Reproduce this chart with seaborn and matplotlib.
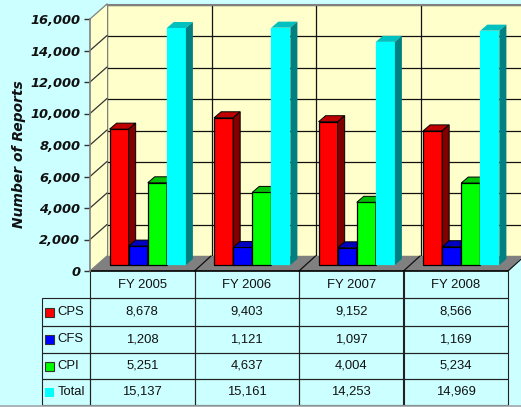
import matplotlib
matplotlib.use("Agg")
import matplotlib.pyplot as plt
import pandas as pd
import seaborn as sns
from matplotlib.patches import Polygon, Rectangle
from matplotlib.table import Table

years = ["FY 2005", "FY 2006", "FY 2007", "FY 2008"]
series = ["CPS", "CFS", "CPI", "Total"]
cps = [8678, 9403, 9152, 8566]
cfs = [1208, 1121, 1097, 1169]
cpi = [5251, 4637, 4004, 5234]
total = [15137, 15161, 14253, 14969]
yticks = [0, 2000, 4000, 6000, 8000, 10000, 12000, 14000, 16000]

front_cols = ["#FF0000", "#0000FF", "#00FF00", "#00FFFF"]
side_cols = ["#800000", "#000080", "#008000", "#008080"]
top_cols = ["#C00000", "#0000C0", "#00C000", "#00C0C0"]

W, H = 521, 407
DEPTH_X, DEPTH_Y = 7, 6

df = pd.DataFrame({"year": years * 4,
                   "series": [s for s in series for _ in years],
                   "reports": cps + cfs + cpi + total})

sns.set_theme(style="white")
plt.rcParams["font.family"] = ["Liberation Sans", "DejaVu Sans"]

fig = plt.figure(figsize=(W / 100, H / 100), dpi=100, facecolor="#CCFFFF")


def px_axes(left, top, right, bottom, z):
    a = fig.add_axes([left / W, 1 - bottom / H, (right - left) / W, (bottom - top) / H])
    a.set_zorder(z)
    return a


# back wall with the gridlines
wall = px_axes(107, 5, 525, 256, 1)
wall.set_facecolor("#FFFFCC")
wall.set_xlim(0, 4)
wall.set_ylim(0, 16000)
wall.set_yticks(yticks)
wall.set_xticks(range(5))
wall.tick_params(left=False, bottom=False, labelleft=False, labelbottom=False)
wall.grid(True, color="#111111", lw=0.9)
for s in wall.spines.values():
    s.set_visible(False)
wall.spines["top"].set_visible(True)
wall.spines["top"].set_color("#808080")
wall.spines["top"].set_linewidth(1.5)
wall.spines["left"].set_visible(True)
wall.spines["left"].set_color("#808080")
wall.spines["left"].set_linewidth(1.5)

# pixel overlay for side wall, floor and table
frame = px_axes(0, 0, W, H, 2)
frame.set_xlim(0, W)
frame.set_ylim(H, 0)
frame.axis("off")
frame.patch.set_alpha(0)
frame.add_patch(Polygon([(90, 19), (107, 5), (107, 256), (90, 271)], fc="#FFFFCC", ec="none"))
frame.add_patch(Polygon([(90, 271), (107, 256), (521, 256), (521, 258), (508, 271)], fc="#808080", ec="none"))
for i in range(len(yticks)):
    yy = 271 - i * 31.5
    frame.plot([90, 107], [yy, yy - 15], color="#333333" if 0 < i < 8 else "#808080", lw=0.9)
for i in range(1, 5):
    xx = 90 + i * 104.5
    frame.plot([xx, xx + 16.5], [271, 256], color="#111111", lw=0.9)
frame.plot([0, W], [406, 406], color="#A0A8A8", lw=1.2)

# front plane, carries the value axis
front = px_axes(90, 19, 508, 271, 2.5)
front.patch.set_alpha(0)
front.set_xlim(0, 4)
front.set_ylim(0, 16000)
front.set_xticks([])
front.set_yticks(yticks)
front.set_yticklabels([f"{v:,}" for v in yticks], family="DejaVu Sans", style="italic",
                      weight="bold", fontsize=9.4, color="#111111")
front.tick_params(axis="y", left=True, length=4, width=1, color="#333333", pad=3)
for s in ["top", "right", "bottom"]:
    front.spines[s].set_visible(False)
front.spines["left"].set_color("#808080")
front.spines["left"].set_linewidth(1.2)
fig.text(19 / W, 1 - 154 / H, "Number of Reports", rotation=90, ha="center", va="center",
         family="DejaVu Sans", style="italic", weight="bold", fontsize=10, color="#111111")
frame.plot([90, 508], [271, 271], color="#000000", lw=1.2)

# bars, in a plane set back from the front
ax = px_axes(95.5, 14.5, 513.5, 265, 3)
ax.patch.set_alpha(0)
sns.barplot(data=df, x="year", y="reports", hue="series", hue_order=series, order=years,
            palette=dict(zip(series, front_cols)), width=0.73, gap=0, saturation=1,
            legend=False, ax=ax)
ax.set_xlim(-0.5, 3.5)
ax.set_ylim(0, 16000)
ax.axis("off")
fig.canvas.draw()

to_frame = ax.transData + frame.transData.inverted()
to_data = frame.transData + ax.transData.inverted()
for k, cont in enumerate(ax.containers):
    for bar in cont:
        bar.set_zorder(3 + k)
        bar.set_edgecolor("#00FFFF" if k == 3 else "#000000")
        bar.set_linewidth(0.2 if k == 3 else 0.9)
        bar.set_clip_on(False)
        x0, x1 = bar.get_x(), bar.get_x() + bar.get_width()
        (l, t), (r, b) = to_frame.transform([(x0, bar.get_height()), (x1, 0)])
        edge = "none" if k == 3 else "#000000"
        top_face = [(l, t), (l + DEPTH_X, t - DEPTH_Y), (r + DEPTH_X, t - DEPTH_Y), (r, t)]
        side_face = [(r, t), (r + DEPTH_X, t - DEPTH_Y), (r + DEPTH_X, b - DEPTH_Y), (r, b)]
        for pts, col in ((top_face, top_cols[k]), (side_face, side_cols[k])):
            ax.add_patch(Polygon(to_data.transform(pts), fc=col, ec=edge, lw=0.7,
                                 zorder=3 + k, clip_on=False))

# data table under the plot
col0 = 48.3
colw = 104.5
row_tops = [271, 298, 326, 353, 379, 405]
rows = [cps, cfs, cpi, total]
tb = Table(frame, bbox=[41.7 / W, 1 - 405 / H, (col0 + 4 * colw) / W, 134 / H])
tb.auto_set_font_size(False)
for r in range(5):
    h = (row_tops[r + 1] - row_tops[r]) / H
    for c in range(5):
        if r == 0:
            txt = "" if c == 0 else years[c - 1]
        else:
            txt = series[r - 1] if c == 0 else f"{rows[r - 1][c - 1]:,}"
        cell = tb.add_cell(r, c, width=(col0 if c == 0 else colw) / W, height=h, text=txt,
                           loc="left" if c == 0 else "center", facecolor="none",
                           edgecolor="#222222")
        cell.set_linewidth(0.8)
        cell.set_fontsize(9.4)
        cell.get_text().set_color("#111111")
        if c == 0:
            cell.PAD = 16 / col0
        if r == 0 and c == 0:
            cell.visible_edges = ""
        if r == 0 and c > 0:
            cell.visible_edges = "LRB"
frame.add_table(tb)

for i, yy in enumerate([312, 339.5, 366.5, 392.5]):
    frame.add_patch(Rectangle((45, yy - 4.5), 8.5, 9, fc=front_cols[i],
                              ec="none" if i == 3 else "#333333", lw=0.8))

fig.savefig("out.png", dpi=100, facecolor=fig.get_facecolor())
